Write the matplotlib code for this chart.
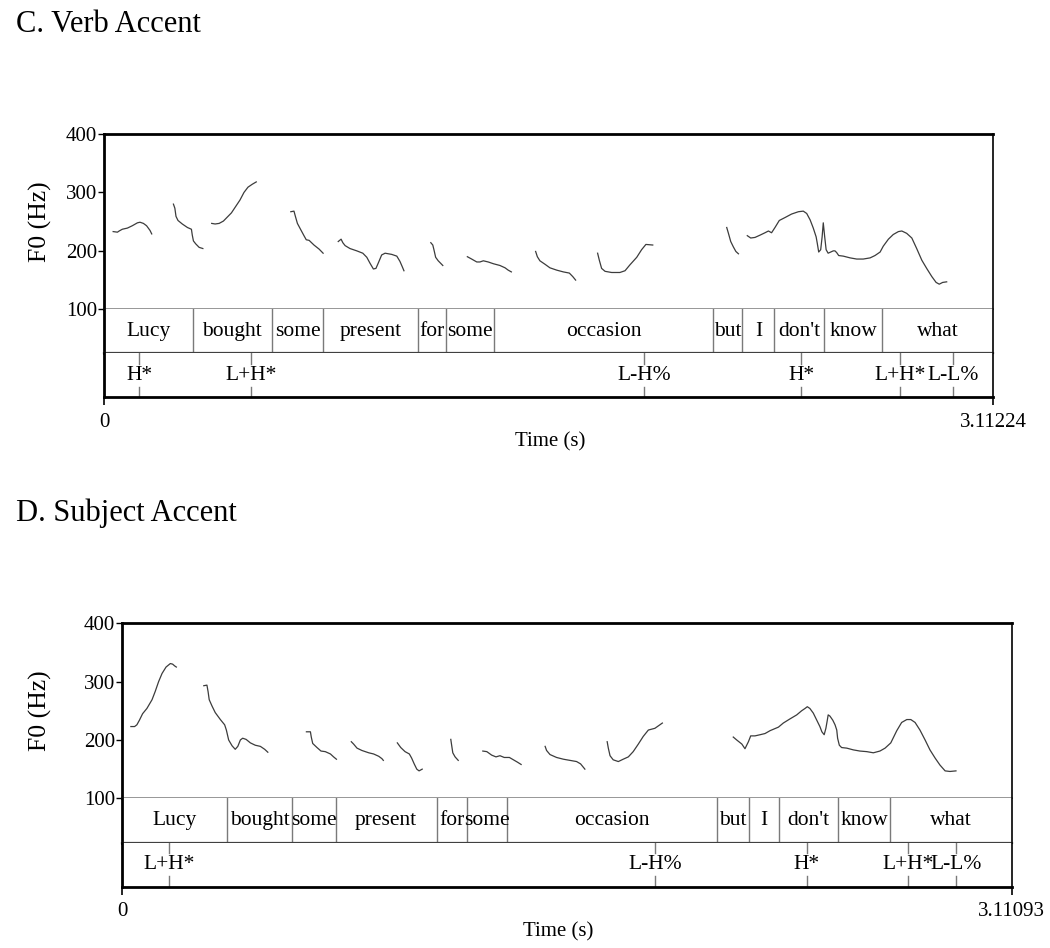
import matplotlib
matplotlib.use("Agg")
import matplotlib.pyplot as plt

plt.rcParams['font.family'] = ['Liberation Serif', 'DejaVu Serif']

# ---- panel C (verb accent) ----
c_end = 3.11224
c_words = ["Lucy", "bought", "some", "present", "for", "some", "occasion",
           "but", "I", "don't", "know", "what"]
c_bounds = [0, 0.310, 0.586, 0.767, 1.099, 1.195, 1.365, 2.130, 2.234,
            2.346, 2.521, 2.722, c_end]
c_tones = ["H*", "L+H*", "L-H%", "H*", "L+H*", "L-L%"]
c_tone_t = [0.122, 0.513, 1.891, 2.440, 2.787, 2.972]

c_f0_t = [
    [0.031, 0.046, 0.052, 0.063, 0.081, 0.098, 0.116, 0.125, 0.137, 0.148, 0.160, 0.166],
    [0.242, 0.247, 0.251, 0.258, 0.273, 0.291, 0.305, 0.308, 0.312, 0.320, 0.332, 0.345],
    [0.376, 0.388, 0.402, 0.417, 0.431, 0.445, 0.460, 0.475, 0.489, 0.503, 0.518, 0.532],
    [0.653, 0.664, 0.669, 0.676, 0.688, 0.699, 0.707, 0.717, 0.734, 0.752, 0.766],
    [0.819, 0.829, 0.835, 0.843, 0.860, 0.884, 0.905, 0.919, 0.930, 0.942, 0.951, 0.959,
     0.971, 0.983, 1.006, 1.024, 1.035, 1.043, 1.049],
    [1.143, 1.150, 1.154, 1.160, 1.169, 1.185],
    [1.271, 1.286, 1.304, 1.315, 1.327, 1.344, 1.362, 1.385, 1.403, 1.414, 1.425],
    [1.510, 1.516, 1.525, 1.543, 1.560, 1.584, 1.607, 1.628, 1.640, 1.650],
    [1.727, 1.733, 1.741, 1.753, 1.776, 1.805, 1.823, 1.840, 1.864, 1.881, 1.896, 1.920],
    [2.179, 2.185, 2.193, 2.202, 2.211, 2.220],
    [2.251, 2.263, 2.278, 2.296, 2.313, 2.325, 2.336, 2.348, 2.363, 2.383, 2.406, 2.430,
     2.447, 2.459, 2.471, 2.482, 2.492, 2.496, 2.501, 2.508, 2.513, 2.517, 2.522, 2.527,
     2.534, 2.543, 2.552, 2.558, 2.564, 2.571, 2.587, 2.611, 2.634, 2.657, 2.681, 2.698,
     2.716, 2.727, 2.745, 2.762, 2.780, 2.792, 2.809, 2.827, 2.844, 2.862, 2.879, 2.897,
     2.912, 2.923, 2.935, 2.949],
]
c_f0_hz = [
    [233, 232, 234, 237, 239, 243, 248, 249, 247, 243, 235, 229],
    [280, 273, 259, 252, 246, 240, 237, 227, 217, 212, 206, 204],
    [247, 246, 247, 251, 258, 265, 276, 287, 300, 309, 314, 318],
    [267, 268, 259, 247, 236, 226, 219, 218, 210, 203, 196],
    [216, 220, 214, 209, 204, 200, 196, 189, 179, 169, 170, 179, 193, 196, 194, 191,
     182, 173, 166],
    [214, 210, 202, 189, 183, 175],
    [190, 186, 181, 181, 183, 181, 178, 175, 171, 167, 164],
    [199, 190, 183, 177, 171, 167, 164, 162, 156, 150],
    [196, 184, 170, 165, 163, 163, 166, 176, 189, 202, 211, 210],
    [240, 230, 216, 207, 199, 195],
    [226, 222, 223, 227, 231, 234, 231, 240, 252, 257, 263, 267, 268, 264, 253, 239,
     224, 213, 198, 202, 224, 248, 224, 202, 196, 198, 200, 200, 197, 192, 191, 188,
     186, 186, 188, 192, 198, 208, 220, 228, 233, 234, 230, 222, 204, 184, 170, 156,
     146, 143, 146, 147],
]

# ---- panel D (subject accent) ----
d_end = 3.11093
d_words = c_words
d_bounds = [0, 0.365, 0.595, 0.746, 1.100, 1.205, 1.347, 2.081, 2.193,
            2.297, 2.504, 2.686, d_end]
d_tones = ["L+H*", "L-H%", "H*", "L+H*", "L-L%"]
d_tone_t = [0.164, 1.863, 2.394, 2.747, 2.916]

d_f0_t = [
    [0.030, 0.043, 0.051, 0.060, 0.071, 0.086, 0.104, 0.115, 0.127, 0.139, 0.153, 0.168,
     0.176, 0.183, 0.189],
    [0.285, 0.296, 0.300, 0.304, 0.314, 0.325, 0.343, 0.358, 0.364, 0.372, 0.384, 0.395,
     0.404, 0.413, 0.421, 0.433, 0.448, 0.465, 0.483, 0.498, 0.509],
    [0.644, 0.658, 0.661, 0.666, 0.681, 0.695, 0.710, 0.728, 0.739, 0.749],
    [0.801, 0.809, 0.821, 0.838, 0.862, 0.879, 0.897, 0.908, 0.913],
    [0.962, 0.974, 0.989, 1.004, 1.012, 1.021, 1.030, 1.038, 1.049],
    [1.149, 1.152, 1.156, 1.164, 1.175],
    [1.261, 1.275, 1.292, 1.307, 1.321, 1.336, 1.354, 1.368, 1.382, 1.395],
    [1.479, 1.484, 1.496, 1.519, 1.543, 1.566, 1.589, 1.603, 1.618],
    [1.696, 1.700, 1.706, 1.717, 1.735, 1.752, 1.770, 1.787, 1.805, 1.822, 1.840, 1.863, 1.889],
    [2.137, 2.149, 2.167, 2.178, 2.190, 2.198, 2.213, 2.231, 2.248, 2.266, 2.295, 2.312,
     2.335, 2.359, 2.376, 2.388, 2.396, 2.405, 2.417, 2.429, 2.440, 2.447, 2.455, 2.461,
     2.466, 2.469, 2.475, 2.485, 2.493, 2.499, 2.502, 2.508, 2.516, 2.534, 2.557, 2.580,
     2.604, 2.627, 2.650, 2.668, 2.688, 2.697, 2.709, 2.726, 2.744, 2.758, 2.773, 2.790,
     2.808, 2.825, 2.843, 2.860, 2.878, 2.895, 2.916],
]
d_f0_hz = [
    [223, 223, 226, 234, 245, 254, 269, 283, 300, 314, 325, 331, 330, 327, 325],
    [293, 294, 283, 269, 258, 247, 235, 226, 217, 200, 190, 184, 189, 200, 203, 201,
     195, 191, 189, 184, 179],
    [214, 214, 205, 194, 187, 181, 180, 176, 171, 167],
    [197, 193, 186, 182, 178, 176, 172, 168, 165],
    [195, 187, 180, 176, 169, 159, 150, 147, 150],
    [201, 191, 178, 171, 165],
    [181, 180, 174, 171, 173, 170, 170, 166, 162, 158],
    [189, 182, 175, 170, 167, 165, 163, 159, 150],
    [197, 186, 173, 166, 163, 167, 171, 180, 193, 206, 217, 220, 229],
    [205, 200, 193, 185, 197, 207, 207, 209, 211, 216, 222, 229, 236, 243, 250, 254,
     257, 254, 246, 234, 223, 214, 209, 220, 234, 243, 241, 234, 226, 217, 203, 191,
     187, 186, 183, 181, 180, 178, 181, 186, 195, 204, 216, 230, 235, 235, 230, 217,
     200, 183, 169, 157, 147, 146, 147],
]

W, H = 1050, 948
fig = plt.figure(figsize=(W / 100, H / 100), dpi=100)


def px_axes(x0, y0, x1, y1):
    return fig.add_axes([x0 / W, 1 - y1 / H, (x1 - x0) / W, (y1 - y0) / H])


def draw_panel(title, x0, x1, y_top, y100, y_word, y_tone, end,
               words, bounds, tones, tone_t, f0_t, f0_hz, xlab_x):
    grey = "#7a7a7a"
    ax = px_axes(x0, y_top, x1, y100)
    axw = px_axes(x0, y100, x1, y_word)
    axt = px_axes(x0, y_word, x1, y_tone)

    # pitch track
    for t, hz in zip(f0_t, f0_hz):
        ax.plot(t, hz, color="#3c3c3c", lw=0.9)
    ax.set_xlim(0, end)
    ax.set_ylim(100, 400)
    ax.set_yticks([100, 200, 300, 400])
    ax.set_xticks([])
    ax.tick_params(axis="y", length=4, width=1, pad=1, labelsize=15)
    ax.spines["left"].set_linewidth(2)
    ax.spines["top"].set_linewidth(2)
    ax.spines["right"].set_linewidth(1.2)
    ax.spines["bottom"].set_color(grey)
    ax.spines["bottom"].set_linewidth(1.1)

    # word tier
    axw.set_xlim(0, end)
    axw.set_ylim(0, 1)
    for b in bounds[1:-1]:
        axw.axvline(b, color=grey, lw=1)
    for w, a, b in zip(words, bounds[:-1], bounds[1:]):
        axw.text((a + b) / 2, 0.5, w, ha="center", va="center", fontsize=15.5)
    axw.set_xticks([])
    axw.set_yticks([])
    axw.spines["top"].set_visible(False)
    axw.spines["left"].set_linewidth(2)
    axw.spines["right"].set_linewidth(1.2)
    axw.spines["bottom"].set_color("#404040")
    axw.spines["bottom"].set_linewidth(1.6)

    # tone tier
    axt.set_xlim(0, end)
    axt.set_ylim(0, 1)
    for tn, tt in zip(tones, tone_t):
        axt.plot([tt, tt], [0.76, 1], color=grey, lw=1)
        axt.plot([tt, tt], [0, 0.24], color=grey, lw=1)
        axt.text(tt, 0.5, tn, ha="center", va="center", fontsize=15.5)
    axt.set_yticks([])
    axt.set_xticks([0, end])
    axt.set_xticklabels(["0", f"{end:g}"])
    axt.tick_params(axis="x", length=6, width=1.2, pad=5, labelsize=15)
    axt.spines["top"].set_visible(False)
    axt.spines["left"].set_linewidth(2)
    axt.spines["right"].set_linewidth(1.2)
    axt.spines["bottom"].set_linewidth(2)

    fig.text(16 / W, 1 - (y_top - 110) / H, title, fontsize=22,
             ha="left", va="center")
    fig.text(40 / W, 1 - ((y_top + y100) / 2) / H, "F0 (Hz)", fontsize=18.5,
             rotation=90, ha="center", va="center")
    fig.text(xlab_x / W, 1 - (y_tone + 45) / H, "Time (s)", fontsize=15,
             ha="center", va="center")


draw_panel("C. Verb Accent", 104.3, 993.3, 134, 309.3, 353.3, 397.3, c_end,
           c_words, c_bounds, c_tones, c_tone_t, c_f0_t, c_f0_hz, 550)
draw_panel("D. Subject Accent", 122.3, 1011.7, 623.3, 798.3, 842.7, 886.7, d_end,
           d_words, d_bounds, d_tones, d_tone_t, d_f0_t, d_f0_hz, 558)

fig.savefig("out.png", dpi=100)
